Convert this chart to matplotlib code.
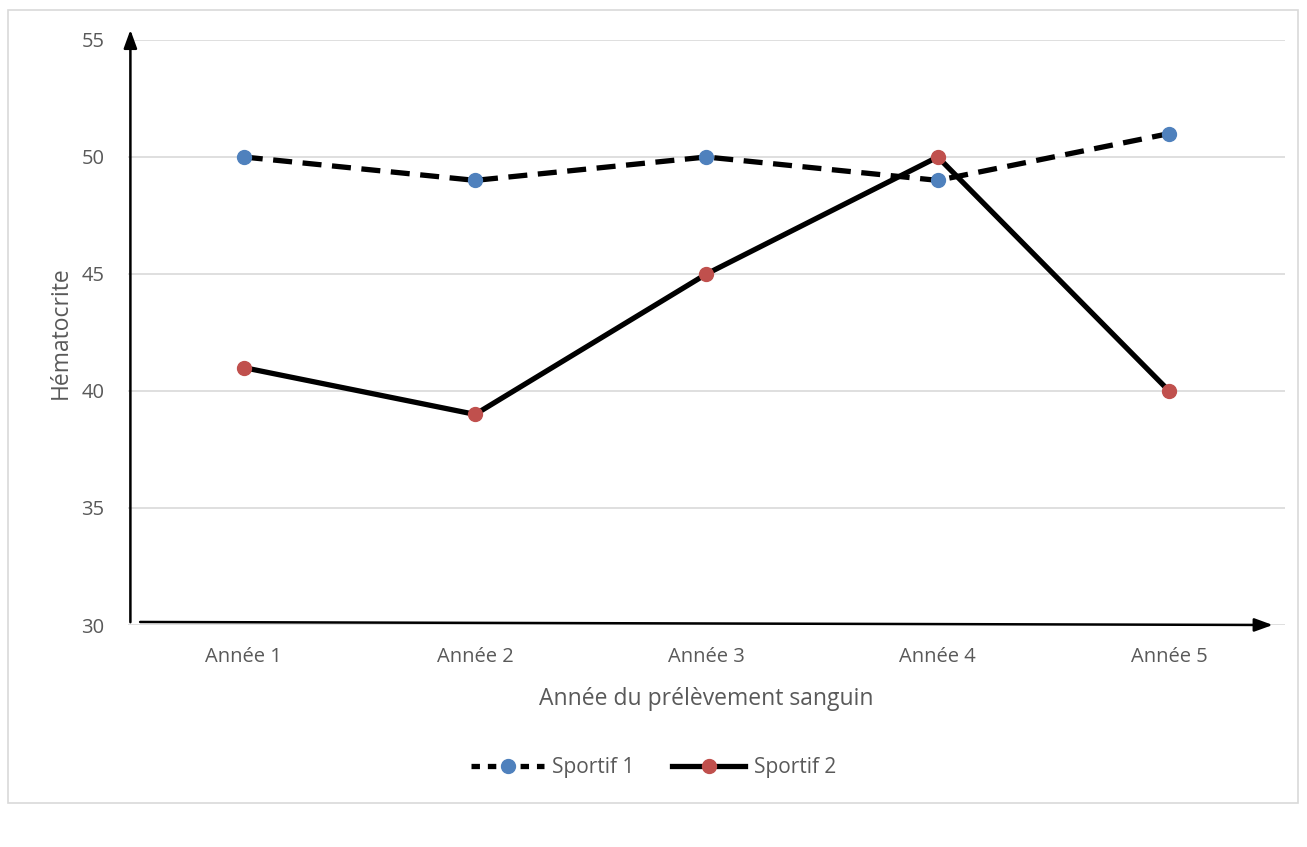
import matplotlib.pyplot as plt
from matplotlib.lines import Line2D
from matplotlib.patches import Rectangle

YEARS = ["Année 1", "Année 2", "Année 3", "Année 4", "Année 5"]
SPORTIF_1 = [50, 49, 50, 49, 51]
SPORTIF_2 = [41, 39, 45, 50, 40]
Y_TICKS = [30, 35, 40, 45, 50, 55]

GREY_TXT = "#595959"
BLUE = "#4F81BD"
RED = "#C0504D"

plt.rcParams["font.family"] = ["Open Sans", "DejaVu Sans"]

fig = plt.figure(figsize=(13.07, 8.47), dpi=100)
fig.patches.append(Rectangle((0.0061, 0.052), 0.987, 0.936, transform=fig.transFigure,
                             fill=False, edgecolor="#d9d9d9", linewidth=1.2))

ax = fig.add_axes([0.098, 0.2621, 0.885, 0.6907])
x = list(range(len(YEARS)))

ax.plot(x, SPORTIF_1, color="black", linewidth=3.8, dashes=(3.6, 2.0),
        marker="o", markersize=10, markerfacecolor=BLUE, markeredgecolor=BLUE,
        zorder=3)
ax.plot(x, SPORTIF_2, color="black", linewidth=3.8,
        marker="o", markersize=10, markerfacecolor=RED, markeredgecolor=RED,
        zorder=3)

ax.set_xlim(-0.5, 4.5)
ax.set_ylim(30, 55)
ax.set_yticks(Y_TICKS)
ax.set_xticks(x)
ax.set_xticklabels(YEARS)
ax.tick_params(axis="both", length=0, labelsize=14.5, colors=GREY_TXT)
ax.tick_params(axis="x", pad=16)
ax.tick_params(axis="y", pad=17)
ax.grid(axis="y", color="#d9d9d9", linewidth=1.2)
ax.set_axisbelow(True)
for s in ax.spines.values():
    s.set_visible(False)

# hand drawn arrows
ax.annotate("", xy=(-0.49, 55.55), xytext=(-0.49, 30.0),
            arrowprops=dict(arrowstyle="-|>,head_length=1.1,head_width=0.4",
                            color="black", linewidth=1.8),
            annotation_clip=False)
ax.annotate("", xy=(4.46, 30.0), xytext=(-0.46, 30.13),
            arrowprops=dict(arrowstyle="-|>,head_length=1.1,head_width=0.4",
                            color="black", linewidth=1.8),
            annotation_clip=False)

ax.set_xlabel("Année du prélèvement sanguin", fontsize=16.5, color=GREY_TXT, labelpad=14)
ax.set_ylabel("Hématocrite", fontsize=16.5, color=GREY_TXT, labelpad=6)

handles = [
    Line2D([], [], color="black", linewidth=3.8, dashes=(1.6, 1.5), marker="o",
           markersize=10, markerfacecolor=BLUE, markeredgecolor=BLUE),
    Line2D([], [], color="black", linewidth=3.8, marker="o",
           markersize=10, markerfacecolor=RED, markeredgecolor=RED),
]
fig.legend(handles, ["Sportif 1", "Sportif 2"], loc="center",
           bbox_to_anchor=(0.5, 0.094), ncol=2, frameon=False, fontsize=15,
           labelcolor=GREY_TXT, handlelength=3.5, handletextpad=0.4,
           columnspacing=1.8)

fig.savefig("out.png", dpi=100)
